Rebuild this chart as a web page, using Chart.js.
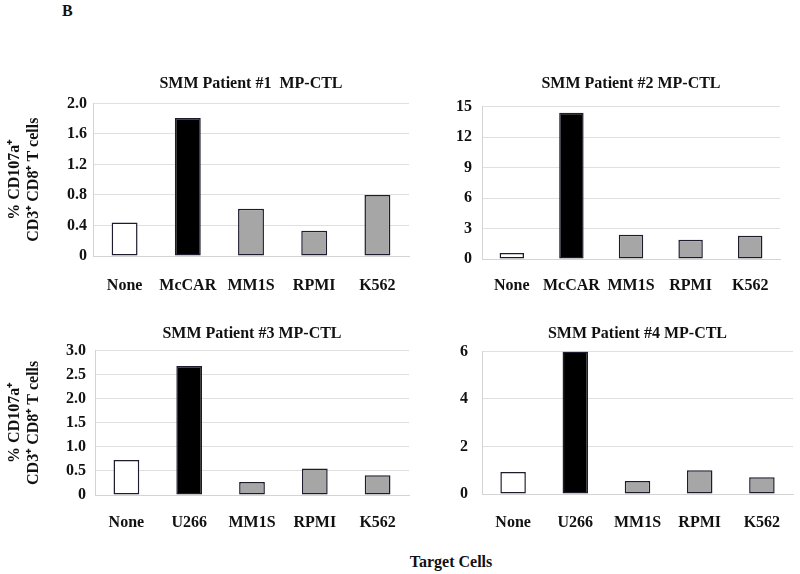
<!DOCTYPE html>
<html>
<head>
<meta charset="utf-8">
<script src="https://cdn.jsdelivr.net/npm/chart.js@4"></script>
<style>
  body { margin: 0; background: #fff; width: 800px; height: 574px; position: relative; overflow: hidden; font-family: "Liberation Serif", serif; }
  canvas { position: absolute; }
  .lbl { position: absolute; font-weight: bold; color: #111; }
</style>
</head>
<body>
<div class="lbl" style="left:62px; top:2px; font-size:16px;">B</div>
<canvas id="p1" width="410" height="230" style="left:0; top:60px;"></canvas>
<canvas id="p2" width="390" height="230" style="left:410px; top:60px;"></canvas>
<canvas id="p3" width="410" height="230" style="left:0; top:310px;"></canvas>
<canvas id="p4" width="390" height="230" style="left:410px; top:310px;"></canvas>
<div class="lbl" style="left:0; width:902px; top:553px; text-align:center; font-size:16px;">Target Cells</div>

<script>
const titles = ["SMM Patient #1  MP-CTL", "SMM Patient #2 MP-CTL", "SMM Patient #3 MP-CTL", "SMM Patient #4 MP-CTL"];
const targetsTop = ["None", "McCAR", "MM1S", "RPMI", "K562"];
const targetsBottom = ["None", "U266", "MM1S", "RPMI", "K562"];

const patient1 = [0.44, 1.81, 0.62, 0.33, 0.80];
const patient2 = [0.6, 14.4, 2.4, 1.9, 2.3];
const patient3 = [0.73, 2.68, 0.27, 0.55, 0.41];
const patient4 = [0.93, 6.0, 0.55, 1.0, 0.70];

const yMax = [2.0, 15, 3.0, 6];
const yStep = [0.4, 3, 0.5, 2];
const yDecimals = [1, 0, 1, 0];
const yTitle = ["% CD107a\u207A", "CD3\u207A CD8\u207A T cells"];

const barColors = ["#ffffff", "#000000", "#a6a6a6", "#a6a6a6", "#a6a6a6"];
const FONT = "'Liberation Serif', 'Times New Roman', serif";

function makePanel(id, i, cats, values, lay) {
  const ctx = document.getElementById(id).getContext("2d");
  return new Chart(ctx, {
    type: "bar",
    data: {
      labels: cats,
      datasets: [{
        data: values,
        backgroundColor: barColors,
        borderColor: "#1c1c2e",
        borderWidth: 1.5,
        borderSkipped: false,
        categoryPercentage: 1,
        barPercentage: 0.41
      }]
    },
    options: {
      responsive: false,
      animation: false,
      layout: { padding: { left: 0, right: lay.padRight, top: 0, bottom: 0 } },
      plugins: {
        legend: { display: false },
        tooltip: { enabled: false },
        title: {
          display: true,
          text: titles[i],
          fullSize: false,
          color: "#111",
          font: { family: FONT, size: 16, weight: "bold" },
          padding: { top: lay.tTop, bottom: lay.tBot }
        }
      },
      scales: {
        x: {
          grid: { display: false },
          border: { color: "#d4d4d4" },
          ticks: {
            color: "#111",
            padding: lay.xPad,
            maxRotation: 0,
            autoSkip: false,
            font: { family: FONT, size: 16, weight: "bold" }
          },
          afterFit: s => { s.height = lay.xh; }
        },
        y: {
          min: 0,
          max: yMax[i],
          grid: { color: "#e0e0e0", drawTicks: false },
          border: { color: "#d4d4d4" },
          ticks: {
            stepSize: yStep[i],
            color: "#111",
            padding: lay.yPad,
            font: { family: FONT, size: 16, weight: "bold" },
            callback: v => v === 0 ? "0" : v.toFixed(yDecimals[i])
          },
          title: {
            display: lay.showTitle,
            text: yTitle,
            color: "#111",
            font: { family: FONT, size: 16, weight: "bold" },
            padding: { top: 5, bottom: 0 }
          },
          afterFit: s => { s.width = lay.yw; }
        }
      }
    }
  });
}

makePanel("p1", 0, targetsTop, patient1,
  { yw: 93, xh: 34, tTop: 14, tBot: 10.2, padRight: 1, xPad: 12, yPad: 6, showTitle: true });
makePanel("p2", 1, targetsTop, patient2,
  { yw: 72, xh: 31, tTop: 14.6, tBot: 12.9, padRight: 20, xPad: 9, yPad: 10, showTitle: false });
makePanel("p3", 2, targetsBottom, patient3,
  { yw: 95, xh: 45, tTop: 14.3, tBot: 7.2, padRight: 1, xPad: 10, yPad: 9, showTitle: true });
makePanel("p4", 3, targetsBottom, patient4,
  { yw: 72, xh: 46, tTop: 14.3, tBot: 7.9, padRight: 7, xPad: 11, yPad: 14, showTitle: false });
</script>
</body>
</html>
